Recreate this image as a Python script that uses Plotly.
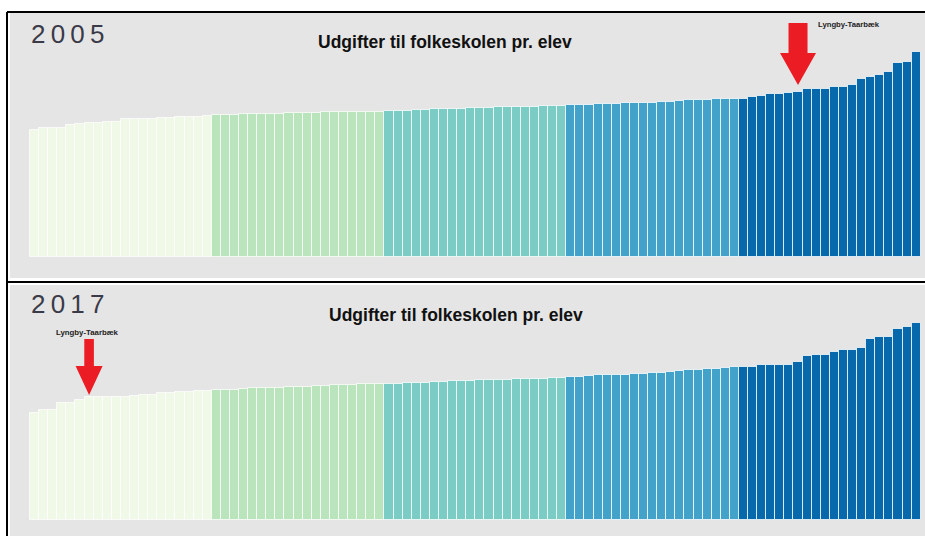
import plotly.graph_objects as go

# ---------------- data ----------------
years = ["2005", "2017"]
chart_title = "Udgifter til folkeskolen pr. elev"
highlight_name = "Lyngby-Taarbæk"

# expenditure per pupil (kr), the 98 municipalities sorted ascending
udgift_2005 = [
    50800, 51480, 51480, 51800, 52800, 53120, 53480, 53680, 54120, 54120,
    55080, 55080, 55080, 55280, 55520, 55800, 55880, 56080, 56120, 56400,
    56800, 56800, 56920, 57080, 57080, 57200, 57200, 57320, 57480, 57600,
    57720, 57720, 57880, 57880, 58000, 58000, 58120, 58120, 58200,
    58400, 58400, 58400, 58800, 58800, 59080, 59080, 59320, 59320, 59480,
    59480, 59720, 59880, 59880, 59880, 59880, 60000, 60400, 60400, 60600,
    60800, 60800, 60920, 61080, 61200, 61320, 61480, 61480, 61600, 61720,
    61880, 62120, 62400, 62680, 62800, 62920, 63080, 63200, 63320,
    63400, 64000, 64400, 65080, 65320, 65600, 66120, 67080, 67320, 67320,
    68200, 68200, 69000, 71400, 71880, 72680, 74120, 77480, 77920, 81880,
]
udgift_2017 = [
    42680, 44000, 44000, 46920, 46920, 48000, 49080, 49080, 49080, 49080,
    49320, 49600, 50000, 50000, 50920, 50920, 51320, 51320, 51720, 51720,
    52000, 52000, 52000, 52520, 52680, 52680, 52800, 52920, 53080, 53320,
    53320, 53600, 53600, 53880, 54000, 54000, 54280, 54280, 54280,
    54280, 54400, 54680, 54680, 54920, 55200, 55200, 55600, 55720, 55720,
    56000, 56000, 56000, 56120, 56280, 56400, 56400, 56520, 56680, 56920,
    57080, 57080, 57480, 57880, 57880, 57880, 58000, 58400, 58400, 58800,
    58920, 59320, 59600, 59880, 59880, 60280, 60400, 60920, 61200,
    61320, 61320, 62000, 62000, 62120, 62120, 63320, 65720, 66120, 66120,
    67320, 68000, 68000, 68920, 72400, 73320, 73320, 76280, 77320, 78680,
]
lyngby_rank = [84, 6]          # position of Lyngby-Taarbæk in each sorted year
quintile_sizes = [20, 19, 20, 19, 20]
quintile_colors = ["#f0f9e8", "#bae4bc", "#7bccc4", "#43a2ca", "#0868ac"]

# ---------------- layout constants (pixels) ----------------
W, H = 925, 536
KR_PER_PX = 400.0
PANEL_X0 = 10
BAR_X0, BAR_W = 30, 9.089
panels = [  # top, bottom, baseline of bars
    dict(top=13, bottom=278, base=257),
    dict(top=285, bottom=536, base=520),
]

def px_x(p):
    return p / W

def px_y(p):
    return 1 - p / H

bar_colors = []
for size, col in zip(quintile_sizes, quintile_colors):
    bar_colors += [col] * size

series = [udgift_2005, udgift_2017]
n = len(udgift_2005)
ranks = list(range(n))

x_lo = (PANEL_X0 - BAR_X0) / BAR_W - 0.5
x_hi = (W - BAR_X0) / BAR_W - 0.5

fig = go.Figure()
shapes = []
annotations = []

arrows = [
    dict(gap=6.7, head_h=32, head_hw=18, shaft_hw=9.5, shaft_top=62,
         lab_dx=51, lab_dy=66.7, lab_size=7.7),
    dict(gap=2.3, head_h=29, head_hw=13.5, shaft_hw=4.8, shaft_top=56,
         lab_dx=-2, lab_dy=65.3, lab_size=7.8),
]
titles_pos = [(445, 42.2), (456, 314.5)]
year_pos = [(29, 34), (29, 304)]

for k, (vals, pan) in enumerate(zip(series, panels)):
    xa = "x" if k == 0 else "x2"
    ya = "y" if k == 0 else "y2"
    fig.add_trace(go.Bar(
        x=ranks, y=vals, xaxis=xa, yaxis=ya,
        marker=dict(color=bar_colors,
                    line=dict(color="rgba(255,255,255,0.75)", width=1)),
        hoverinfo="y", showlegend=False,
    ))
    ymin = -(pan["bottom"] - pan["base"]) * KR_PER_PX
    ymax = (pan["base"] - pan["top"]) * KR_PER_PX
    axis_common = dict(showgrid=False, zeroline=False, showticklabels=False,
                       ticks="", showline=False, fixedrange=True)
    fig.layout[("xaxis" if k == 0 else "xaxis2")] = dict(
        domain=[px_x(PANEL_X0), 1], range=[x_lo, x_hi],
        anchor=ya, **axis_common)
    fig.layout[("yaxis" if k == 0 else "yaxis2")] = dict(
        domain=[px_y(pan["bottom"]), px_y(pan["top"])], range=[ymin, ymax],
        anchor=xa, **axis_common)

    # red arrow pointing at Lyngby-Taarbæk
    a = arrows[k]
    r = lyngby_rank[k]
    g = a["gap"]
    hb = g + a["head_h"]
    st = g + a["shaft_top"]
    path = (f"M 0 {g} L {a['head_hw']} {hb} L {a['shaft_hw']} {hb} "
            f"L {a['shaft_hw']} {st} L {-a['shaft_hw']} {st} "
            f"L {-a['shaft_hw']} {hb} L {-a['head_hw']} {hb} Z")
    shapes.append(dict(type="path", xref=xa, yref=ya,
                       xsizemode="pixel", ysizemode="pixel",
                       xanchor=r, yanchor=vals[r], path=path,
                       fillcolor="#ec1c24", line=dict(width=0)))
    annotations.append(dict(
        x=r, y=vals[r], xref=xa, yref=ya, text=f"<b>{highlight_name}</b>",
        showarrow=False, xshift=a["lab_dx"], yshift=a["lab_dy"],
        xanchor="center", yanchor="middle",
        font=dict(family="Arial, Liberation Sans, sans-serif",
                  size=a["lab_size"], color="#222222")))
    # chart title
    tx, ty = titles_pos[k]
    annotations.append(dict(
        x=px_x(tx), y=px_y(ty), xref="paper", yref="paper",
        text=f"<b>{chart_title}</b>", showarrow=False,
        xanchor="center", yanchor="middle",
        font=dict(family="Arial, Liberation Sans, sans-serif",
                  size=17.5, color="#111111")))
    # year label
    yx, yy = year_pos[k]
    annotations.append(dict(
        x=px_x(yx), y=px_y(yy), xref="paper", yref="paper",
        text="\u2009".join(years[k]), showarrow=False,
        xanchor="left", yanchor="middle",
        font=dict(family="Arial, Liberation Sans, sans-serif",
                  size=26, color="#3a3a48")))

# black frame lines
line_style = dict(color="#000000", width=2)
shapes.append(dict(type="line", xref="paper", yref="paper",
                   x0=px_x(7), x1=px_x(7), y0=px_y(12), y1=px_y(H),
                   line=line_style))
for yline in (12, 282):
    shapes.append(dict(type="line", xref="paper", yref="paper",
                       x0=px_x(7), x1=1, y0=px_y(yline), y1=px_y(yline),
                       line=line_style))

fig.update_layout(
    width=W, height=H,
    margin=dict(l=0, r=0, t=0, b=0),
    paper_bgcolor="#ffffff",
    plot_bgcolor="#e5e5e5",
    bargap=0,
    shapes=shapes,
    annotations=annotations,
    showlegend=False,
)

fig.write_html(
    "out.html",
    config={"displayModeBar": False},
    post_script="document.body.style.margin='0px';"
                "document.body.style.overflow='hidden';",
)
